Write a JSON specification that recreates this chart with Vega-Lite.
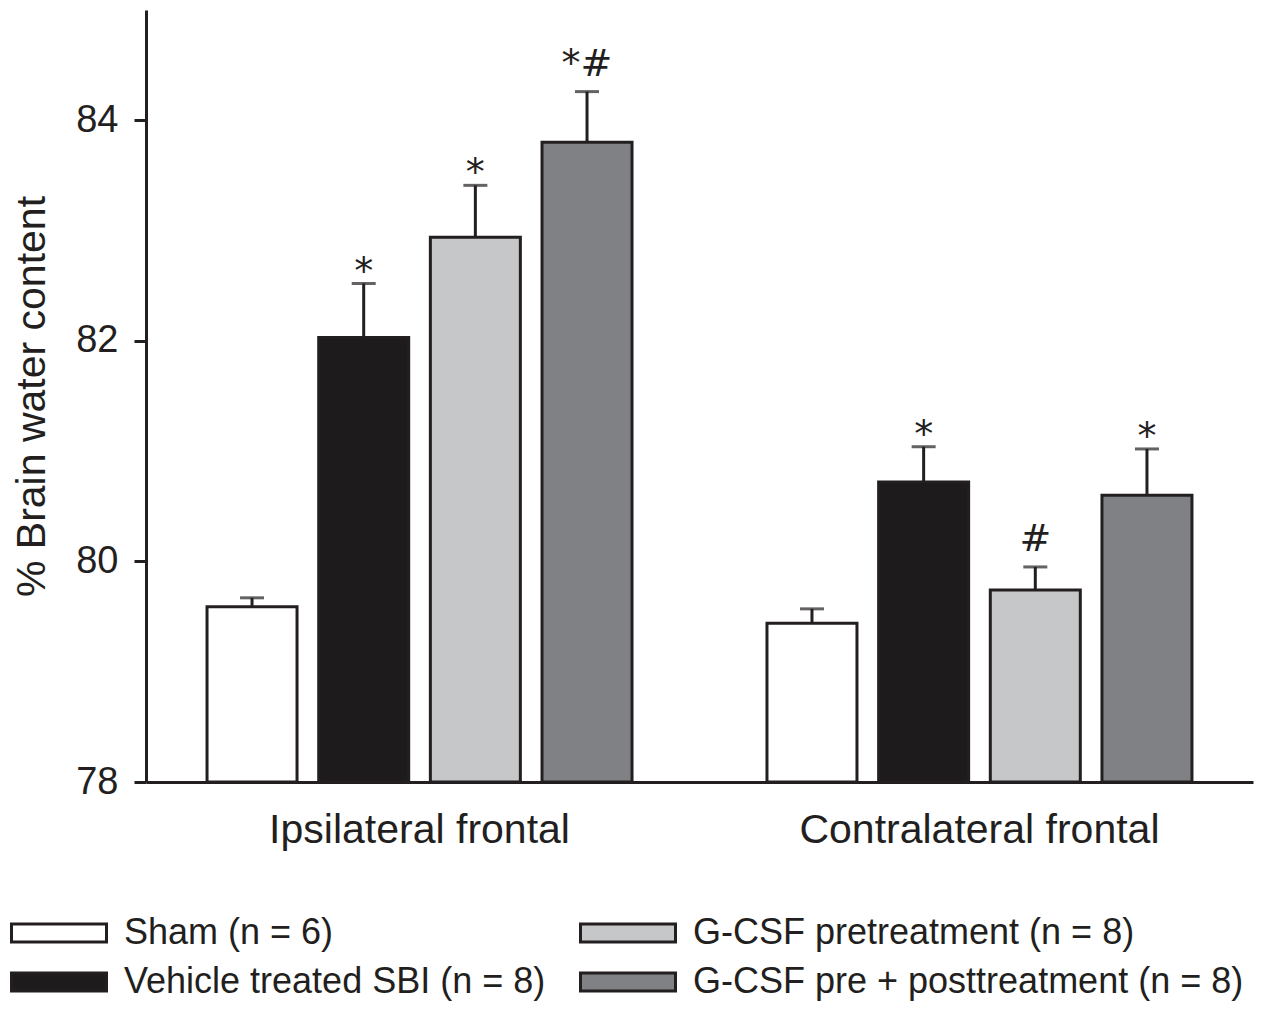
{
  "$schema": "https://vega.github.io/schema/vega-lite/v6.json",
  "autosize": "none",
  "width": 1107,
  "height": 772,
  "padding": {"left": 146, "top": 10, "right": 10, "bottom": 228},
  "background": "white",
  "config": {
    "view": {"stroke": null},
    "font": "Liberation Sans",
    "axis": {"grid": false, "domainColor": "#231f20", "domainWidth": 3, "tickColor": "#231f20", "labelColor": "#231f20", "titleColor": "#231f20", "labelFont": "Liberation Sans", "titleFont": "Liberation Sans"}
  },
  "data": {
    "values": [
      {"region": "Ipsilateral frontal", "group": "Sham (n = 6)", "mean": 79.59, "upper": 79.67, "sig": ""},
      {"region": "Ipsilateral frontal", "group": "Vehicle treated SBI (n = 8)", "mean": 82.03, "upper": 82.52, "sig": "*"},
      {"region": "Ipsilateral frontal", "group": "G-CSF pretreatment (n = 8)", "mean": 82.94, "upper": 83.41, "sig": "*"},
      {"region": "Ipsilateral frontal", "group": "G-CSF pre + posttreatment (n = 8)", "mean": 83.80, "upper": 84.26, "sig": "*#"},
      {"region": "Contralateral frontal", "group": "Sham (n = 6)", "mean": 79.44, "upper": 79.57, "sig": ""},
      {"region": "Contralateral frontal", "group": "Vehicle treated SBI (n = 8)", "mean": 80.72, "upper": 81.04, "sig": "*"},
      {"region": "Contralateral frontal", "group": "G-CSF pretreatment (n = 8)", "mean": 79.74, "upper": 79.95, "sig": "#"},
      {"region": "Contralateral frontal", "group": "G-CSF pre + posttreatment (n = 8)", "mean": 80.60, "upper": 81.02, "sig": "*"}
    ]
  },
  "encoding": {
    "x": {
      "field": "region", "type": "nominal",
      "sort": ["Ipsilateral frontal", "Contralateral frontal"],
      "scale": {"paddingInner": 0.241, "paddingOuter": 0.109},
      "axis": {"title": null, "ticks": false, "labelAngle": 0, "labelFontSize": 41, "labelPadding": 28, "labelLimit": 0}
    },
    "xOffset": {
      "field": "group", "type": "nominal",
      "sort": ["Sham (n = 6)", "Vehicle treated SBI (n = 8)", "G-CSF pretreatment (n = 8)", "G-CSF pre + posttreatment (n = 8)"],
      "scale": {"paddingInner": 0.194, "paddingOuter": 0}
    },
    "y": {
      "type": "quantitative",
      "scale": {"domain": [78, 85], "zero": false, "nice": false},
      "axis": {"values": [78, 80, 82, 84], "title": "% Brain water content", "titleFontSize": 41, "titleFontWeight": "normal", "titlePadding": 22, "labelFontSize": 38, "labelPadding": 16, "tickSize": 12, "tickWidth": 3}
    }
  },
  "layer": [
    {
      "mark": {"type": "bar", "stroke": "#231f20", "strokeWidth": 3},
      "encoding": {
        "y": {"field": "mean", "type": "quantitative"},
        "y2": {"datum": 78},
        "fill": {
          "field": "group", "type": "nominal",
          "scale": {
            "domain": ["Sham (n = 6)", "Vehicle treated SBI (n = 8)", "G-CSF pretreatment (n = 8)", "G-CSF pre + posttreatment (n = 8)"],
            "range": ["#ffffff", "#1e1b1c", "#c6c7c9", "#808184"]
          },
          "legend": {
            "title": null, "orient": "none", "legendX": -105, "legendY": 905, "columns": 2, "direction": "vertical", "columnPadding": 28, "rowPadding": 13,
            "symbolType": "M-5,-0.95H5V0.95H-5Z", "symbolSize": 361, "symbolStrokeColor": "#231f20", "symbolStrokeWidth": 3,
            "labelFontSize": 36, "labelFont": "Liberation Sans", "labelColor": "#231f20", "labelOffset": 47, "labelLimit": 0, "padding": 0
          }
        }
      }
    },
    {
      "mark": {"type": "rule", "stroke": "#231f20", "strokeWidth": 3},
      "encoding": {
        "y": {"field": "mean", "type": "quantitative"},
        "y2": {"field": "upper"}
      }
    },
    {
      "mark": {"type": "tick", "color": "#231f20", "size": 24, "thickness": 3, "orient": "horizontal"},
      "encoding": {
        "y": {"field": "upper", "type": "quantitative"}
      }
    },
    {
      "transform": [{"filter": "datum.sig == '*'"}],
      "mark": {"type": "text", "font": "DejaVu Sans", "fontSize": 38, "color": "#231f20", "baseline": "alphabetic", "dy": 0},
      "encoding": {
        "y": {"field": "upper", "type": "quantitative"},
        "text": {"field": "sig"}
      }
    },
    {
      "transform": [{"filter": "indexof(datum.sig, '#') >= 0"}],
      "mark": {"type": "text", "font": "DejaVu Sans", "fontSize": 38, "color": "#231f20", "baseline": "alphabetic", "dy": -16},
      "encoding": {
        "y": {"field": "upper", "type": "quantitative"},
        "text": {"field": "sig"}
      }
    }
  ]
}
